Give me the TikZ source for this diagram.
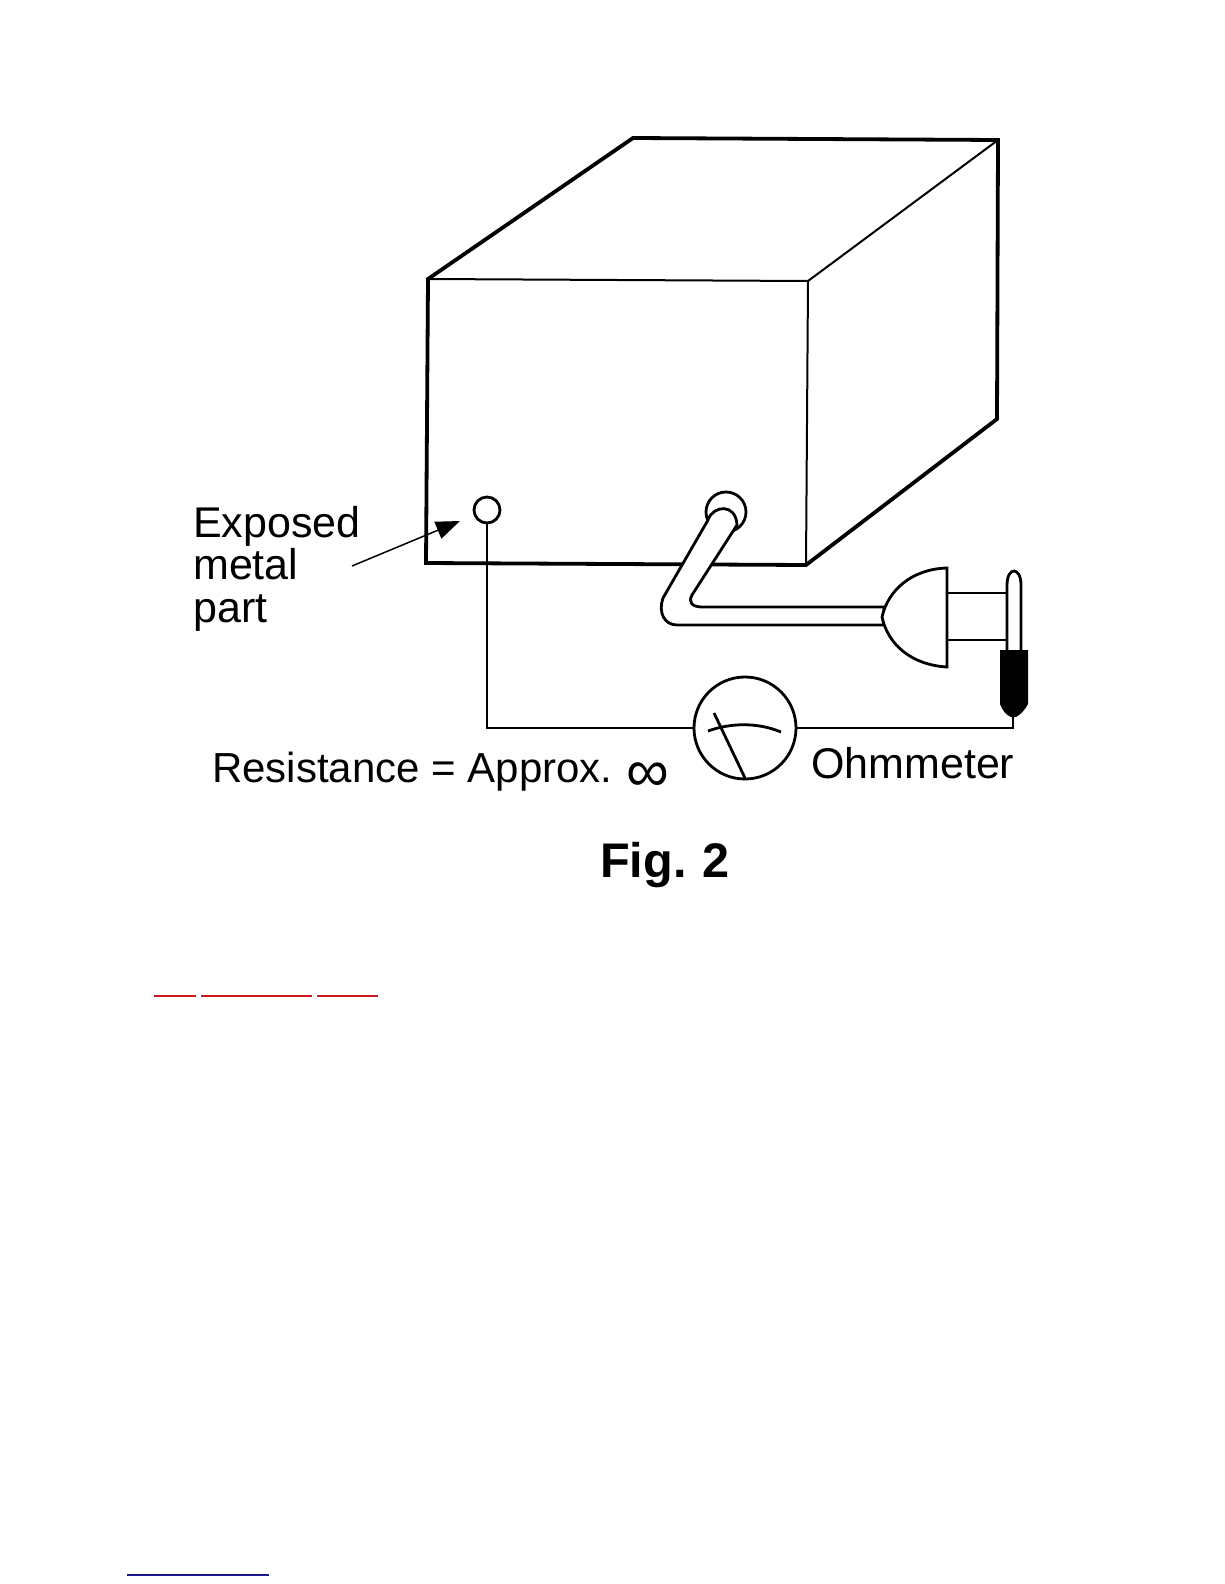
\documentclass[tikz,border=0pt]{standalone}
\usepackage{fontspec}
\setmainfont{Liberation Sans}
\usetikzlibrary{arrows.meta}
\definecolor{linkred}{rgb}{0.8,0.1,0.1}
\definecolor{linkblue}{rgb}{0.1,0.1,0.55}
\tikzset{
  heavy/.style={line width=3.8pt,line join=miter},
  light/.style={line width=2.8pt},
  thin edge/.style={line width=2pt},
  caption/.style={anchor=base west,inner sep=0pt,font=\fontsize{43}{43}\selectfont},
  port/.style={circle,draw,line width=2.8pt,inner sep=0pt,fill=white}
}

\begin{document}
\begin{tikzpicture}[x=1pt,y=-1pt]
\useasboundingbox (0,0) rectangle (1224,1584);
% cabinet
\draw[thin edge] (428,279) -- (808,281) -- (806,565);
\draw[thin edge] (808,281) -- (998,140);
\draw[heavy] (428,279) -- (633,138) -- (998,140) -- (997,419) -- (806,565) -- (426,563) -- cycle;
% contact and meter
\node[port,minimum size=26pt] (contact) at (487,510) {};
\node[port,minimum size=102pt] (meter) at (745,728) {};
\coordinate (tip) at (1013,716);
\draw[light] (contact.south) |- (meter.west);
\draw[light] (meter.east) -| (tip);
\draw[light] (714,713) -- (745,778);
\draw[light] (708,731) .. controls (730,723) and (757,722) .. (781,732);
% power cord
\draw[light,fill=white] (726,512) circle (20);
\draw[light,fill=white] (708,520) .. controls (713,505) and (736,503) .. (737,525)
  -- (692,595) .. controls (688,602) and (692,607) .. (702,607) -- (884,607)
  -- (884,625) -- (677,625) .. controls (664,625) and (658,612) .. (663,598) -- cycle;
% plug
\draw[light,fill=white] (947,593) -- (1007,593) -- (1007,640) -- (947,640);
\draw[light,fill=white] (947,568) .. controls (912,569) and (888,590) .. (882,617)
  .. controls (888,645) and (912,665) .. (947,667) -- cycle;
% probe
\draw[light,fill=white] (1007,650) -- (1007,585) .. controls (1007,575) and (1011,571) .. (1014,571)
  .. controls (1017,571) and (1021,575) .. (1021,585) -- (1021,650);
\fill (1000,650) -- (1028,650) -- (1028,704) .. controls (1025,710) and (1020,715) .. (1016,717)
  -- (1011,717) .. controls (1006,715) and (1002,710) .. (1000,704) -- cycle;
% labels
\node[caption] (exposed) at (193,537) {Exposed};
\node[caption] (metal) at (193,579) {metal};
\node[caption] (part) at (193,622) {part};
\node[caption,font=\fontsize{42}{42}\selectfont] (resistance) at (212,782) {Resistance = Approx.};
\node[caption,font=\fontsize{60}{60}\selectfont] (infinity) at (626,791) {∞};
\node[caption] (ohmmeter) at (811,778) {Ohmmeter};
\node[caption,font=\bfseries\fontsize{48.6}{48.6}\selectfont] (fig) at (600,877) {Fig.\kern2pt\ 2};
\coordinate (tail) at (352,566);
\coordinate (head) at (460,521);
\draw[line width=1.5pt,-{Stealth[length=24pt,width=18pt,inset=0pt]}] (tail) -- (head);
% underlines
\foreach \a/\b in {154/196, 201/312, 317/378}
  \draw[linkred,line width=1.2pt] (\a,996) -- (\b,996);
\draw[linkblue,line width=1.2pt] (127,1575) -- (269,1575);
\end{tikzpicture}
\end{document}
